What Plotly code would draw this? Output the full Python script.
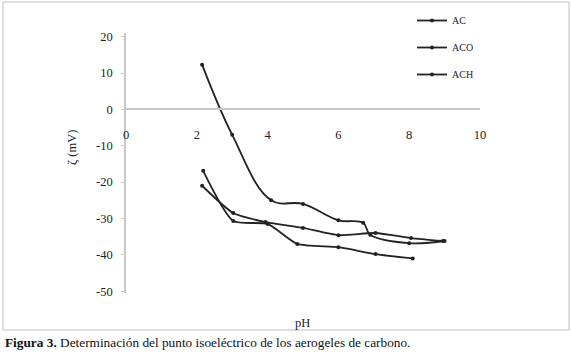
import plotly.graph_objects as go

series_names = ["AC", "ACO", "ACH"]
ac_ph = [2.15, 3.0, 4.1, 5.0, 6.0, 6.7, 6.9, 8.0, 9.0]
ac_zeta = [12.3, -7.0, -25.0, -26.0, -30.5, -31.2, -34.5, -36.8, -36.2]
aco_ph = [2.18, 3.03, 4.0, 4.84, 6.0, 7.05, 8.1]
aco_zeta = [-16.9, -30.7, -31.5, -37.0, -37.9, -39.8, -41.0]
ach_ph = [2.15, 3.03, 3.94, 5.0, 6.0, 7.05, 8.05, 8.95]
ach_zeta = [-21.0, -28.5, -31.0, -32.6, -34.6, -34.0, -35.4, -36.2]

x_ticks = [0, 2, 4, 6, 8, 10]
y_ticks = [20, 10, 0, -10, -20, -30, -40, -50]

W, H = 571, 352
L, R, T, B = 126, 91, 33, 59
pw, ph = W - L - R, H - T - B

def px(xp):
    return (xp - L) / pw

def py(yp):
    return (H - B - yp) / ph

FONT = "Liberation Serif"
INK = "#222222"

fig = go.Figure()
for name, xs, ys, sm in [("AC", ac_ph, ac_zeta, 1.1), ("ACO", aco_ph, aco_zeta, 0.6), ("ACH", ach_ph, ach_zeta, 0.6)]:
    fig.add_trace(go.Scatter(
        x=xs, y=ys, name=name, legendgroup=name, mode="lines+markers",
        line=dict(color=INK, width=1.8, shape="spline", smoothing=sm),
        marker=dict(color=INK, size=4),
    ))

y0_frac = (21 - 0) / (21 + 50.5)
fig.update_layout(
    width=W, height=H,
    margin=dict(l=L, r=R, t=T, b=B, autoexpand=False),
    paper_bgcolor="white", plot_bgcolor="white",
    font=dict(family=FONT, size=12, color=INK),
    showlegend=True,
    legend=dict(
        x=px(412), y=py(6), xanchor="left", yanchor="top",
        font=dict(family=FONT, size=10, color=INK),
        traceorder="grouped", tracegroupgap=8, itemwidth=30,
        bgcolor="rgba(0,0,0,0)",
    ),
    xaxis=dict(
        range=[0, 10], tickvals=x_ticks, ticktext=[str(v) for v in x_ticks],
        showgrid=False, zeroline=False, showline=True, linecolor="#c8c8c8", linewidth=1.5,
        anchor="free", position=1 - y0_frac,
        ticks="", ticklabelstandoff=14,
        tickfont=dict(family=FONT, size=12.5, color=INK),
    ),
    yaxis=dict(
        range=[-50.5, 21], tickvals=y_ticks, ticktext=[str(v) for v in y_ticks],
        showgrid=False, zeroline=False, showline=True, linecolor="#c8c8c8", linewidth=1.5,
        ticks="outside", ticklen=3, tickcolor="#c8c8c8",
        ticklabelstandoff=6,
        tickfont=dict(family=FONT, size=12.5, color=INK),
    ),
    shapes=[dict(type="rect", xref="paper", yref="paper",
                 x0=px(3), x1=px(569), y0=py(330), y1=py(2),
                 line=dict(color="#bdbdbd", width=1))],
    annotations=[
        dict(text="pH", xref="paper", yref="paper", x=px(302), y=py(323),
             xanchor="center", yanchor="middle",
             showarrow=False, font=dict(family=FONT, size=12.5, color=INK)),
        dict(text="ζ (mV)", xref="paper", yref="paper", x=px(72), y=py(148),
             xanchor="center", yanchor="middle",
             textangle=-90, showarrow=False, font=dict(family=FONT, size=12.5, color=INK)),
        dict(text="<b>Figura 3.</b> Determinación del punto isoeléctrico de los aerogeles de carbono.",
             xref="paper", yref="paper", x=px(3), y=py(342), xanchor="left", yanchor="middle",
             showarrow=False, font=dict(family=FONT, size=13.3, color="#111111")),
    ],
)

fig.write_html("out.html")
